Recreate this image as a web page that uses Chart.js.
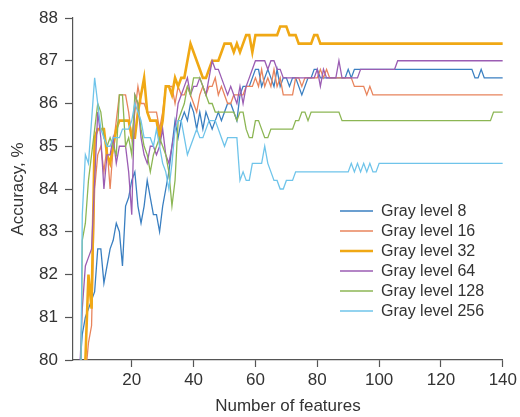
<!DOCTYPE html>
<html lang="en">
<head>
<meta charset="UTF-8" />
<title>Accuracy vs number of features</title>
<style>
  html, body { margin: 0; padding: 0; background: #fff; }
</style>
</head>
<body>
<canvas id="chart" width="520" height="417"></canvas>
<script src="https://cdn.jsdelivr.net/npm/chart.js"></script>
<script>
// one value per feature count 1..140 (null = not plotted yet)
const seriesNames = ['Gray level 8', 'Gray level 16', 'Gray level 32', 'Gray level 64', 'Gray level 128', 'Gray level 256'];
const xTicks = [20, 40, 60, 80, 100, 120, 140];
const yTicks = [80, 81, 82, 83, 84, 85, 86, 87, 88];

const gray8 = [
  null, null, 79.6, 80.6, 81.0, 81.2, 81.4, 81.6, 82.6, 82.6,
  81.8, 82.2, 82.6, 82.8, 83.2, 83.0, 82.2, 83.6, 83.8, 84.2,
  84.4, 83.6, 83.2, 83.6, 84.2, 83.8, 83.4, 83.4, 83.0, 83.6,
  84.0, 84.4, 85.0, 85.6, 85.2, 85.6, 85.8, 85.6, 86.0, 85.8,
  85.4, 85.8, 85.4, 85.8, 85.6, 85.4, 85.6, 85.8, 85.6, 85.8,
  86.0, 86.0, 85.8, 85.6, 86.2, 86.4, 86.4, 86.4, 86.6, 86.8,
  86.8, 86.4, 86.6, 86.8, 86.6, 86.4, 86.8, 86.4, 86.6, 86.6,
  86.4, 86.6, 86.6, 86.4, 86.2, 86.4, 86.6, 86.6, 86.8, 86.8,
  86.6, 86.6, 86.6, 86.6, 86.6, 86.6, 86.6, 86.6, 86.6, 86.8,
  86.6, 86.8, 86.8, 86.8, 86.8, 86.8, 86.8, 86.8, 86.8, 86.8,
  86.8, 86.8, 86.8, 86.8, 86.8, 86.8, 86.8, 86.8, 86.8, 86.8,
  86.8, 86.8, 86.8, 86.8, 86.8, 86.8, 86.8, 86.8, 86.8, 86.8,
  86.8, 86.8, 86.8, 86.8, 86.8, 86.8, 86.8, 86.8, 86.8, 86.8,
  86.6, 86.6, 86.8, 86.6, 86.6, 86.6, 86.6, 86.6, 86.6, 86.6
];
const gray16 = [
  null, null, null, null, 79.6, 80.4, 80.8, 84.0, 84.8, 85.0,
  84.4, 85.0, 84.0, 85.0, 85.6, 86.2, 86.2, 86.2, 85.8, 85.2,
  85.8, 86.4, 86.0, 86.0, 85.8, 85.8, 85.8, 85.8, 85.4, 85.8,
  86.4, 86.4, 86.4, 86.0, 86.4, 86.2, 86.2, 86.4, 86.2, 86.0,
  85.8, 86.2, 86.4, 86.2, 86.4, 86.4, 86.6, 86.2, 86.4, 86.2,
  86.0, 86.0, 86.2, 86.2, 86.2, 86.2, 86.4, 86.4, 86.4, 86.6,
  86.4, 86.8, 86.4, 86.6, 86.4, 86.8, 86.4, 86.6, 86.2, 86.2,
  86.2, 86.2, 86.6, 86.6, 86.4, 86.6, 86.6, 86.6, 86.6, 86.6,
  86.8, 86.6, 86.8, 86.6, 86.6, 86.6, 86.6, 86.6, 86.6, 86.6,
  86.6, 86.4, 86.4, 86.4, 86.4, 86.2, 86.4, 86.2, 86.2, 86.2,
  86.2, 86.2, 86.2, 86.2, 86.2, 86.2, 86.2, 86.2, 86.2, 86.2,
  86.2, 86.2, 86.2, 86.2, 86.2, 86.2, 86.2, 86.2, 86.2, 86.2,
  86.2, 86.2, 86.2, 86.2, 86.2, 86.2, 86.2, 86.2, 86.2, 86.2,
  86.2, 86.2, 86.2, 86.2, 86.2, 86.2, 86.2, 86.2, 86.2, 86.2
];
const gray32 = [
  null, null, null, 79.0, 80.0, 82.0, 81.2, 85.2, 85.4, 85.4,
  85.4, 84.8, 84.6, 85.0, 85.4, 85.6, 85.6, 85.6, 85.6, 85.2,
  85.2, 85.8, 86.2, 86.6, 85.8, 85.6, 85.6, 85.6, 85.2, 85.6,
  86.4, 86.4, 86.2, 86.6, 86.4, 86.6, 86.6, 87.0, 87.4, 87.2,
  87.0, 86.8, 86.6, 86.6, 86.8, 87.0, 87.0, 87.0, 87.2, 87.4,
  87.4, 87.4, 87.2, 87.4, 87.2, 87.4, 87.6, 87.6, 87.2, 87.6,
  87.6, 87.6, 87.6, 87.6, 87.6, 87.6, 87.6, 87.8, 87.8, 87.8,
  87.6, 87.6, 87.6, 87.4, 87.4, 87.4, 87.4, 87.4, 87.6, 87.6,
  87.4, 87.4, 87.4, 87.4, 87.4, 87.4, 87.4, 87.4, 87.4, 87.4,
  87.4, 87.4, 87.4, 87.4, 87.4, 87.4, 87.4, 87.4, 87.4, 87.4,
  87.4, 87.4, 87.4, 87.4, 87.4, 87.4, 87.4, 87.4, 87.4, 87.4,
  87.4, 87.4, 87.4, 87.4, 87.4, 87.4, 87.4, 87.4, 87.4, 87.4,
  87.4, 87.4, 87.4, 87.4, 87.4, 87.4, 87.4, 87.4, 87.4, 87.4,
  87.4, 87.4, 87.4, 87.4, 87.4, 87.4, 87.4, 87.4, 87.4, 87.4
];
const gray64 = [
  null, null, 79.4, 81.2, 82.2, 82.4, 82.6, 84.2, 85.8, 85.2,
  84.0, 84.8, 84.8, 85.2, 84.6, 85.0, 85.0, 85.0, 84.4, 83.4,
  86.2, 86.0, 85.2, 84.8, 84.6, 85.0, 85.0, 84.8, 85.0, 85.4,
  84.8, 84.6, 85.0, 85.4, 86.0, 86.2, 86.4, 86.6, 86.2, 86.4,
  86.4, 86.6, 86.4, 86.2, 86.6, 87.0, 86.8, 86.8, 86.6, 86.4,
  86.2, 86.4, 86.2, 86.0, 86.4, 86.0, 86.4, 86.6, 86.8, 87.0,
  87.0, 87.0, 87.0, 86.8, 87.0, 87.0, 86.8, 86.8, 86.6, 86.6,
  86.6, 86.6, 86.6, 86.6, 86.6, 86.6, 86.6, 86.6, 86.6, 86.8,
  86.4, 86.8, 86.6, 86.6, 86.6, 86.6, 87.0, 86.6, 86.6, 86.6,
  86.6, 86.6, 86.6, 86.8, 86.8, 86.8, 86.8, 86.8, 86.8, 86.8,
  86.8, 86.8, 86.8, 86.8, 86.8, 87.0, 87.0, 87.0, 87.0, 87.0,
  87.0, 87.0, 87.0, 87.0, 87.0, 87.0, 87.0, 87.0, 87.0, 87.0,
  87.0, 87.0, 87.0, 87.0, 87.0, 87.0, 87.0, 87.0, 87.0, 87.0,
  87.0, 87.0, 87.0, 87.0, 87.0, 87.0, 87.0, 87.0, 87.0, 87.0
];
const gray128 = [
  null, null, 75.0, 82.8, 83.2, 84.2, 84.8, 85.4, 86.0, 85.8,
  85.2, 85.0, 85.2, 85.0, 84.8, 86.2, 86.2, 85.0, 85.2, 84.8,
  86.2, 86.0, 85.4, 85.0, 84.8, 84.4, 84.8, 85.0, 85.2, 85.0,
  84.8, 84.4, 83.6, 84.2, 85.6, 85.8, 86.0, 86.4, 86.2, 86.6,
  86.6, 86.6, 86.4, 86.2, 86.0, 86.0, 85.8, 85.8, 85.8, 85.8,
  85.8, 85.8, 85.8, 85.6, 85.8, 85.8, 85.4, 85.2, 85.2, 85.6,
  85.6, 85.4, 85.2, 85.2, 85.4, 85.4, 85.4, 85.4, 85.4, 85.4,
  85.4, 85.4, 85.6, 85.6, 85.8, 85.8, 85.6, 85.8, 85.8, 85.8,
  85.8, 85.8, 85.8, 85.8, 85.8, 85.8, 85.8, 85.6, 85.6, 85.6,
  85.6, 85.6, 85.6, 85.6, 85.6, 85.6, 85.6, 85.6, 85.6, 85.6,
  85.6, 85.6, 85.6, 85.6, 85.6, 85.6, 85.6, 85.6, 85.6, 85.6,
  85.6, 85.6, 85.6, 85.6, 85.6, 85.6, 85.6, 85.6, 85.6, 85.6,
  85.6, 85.6, 85.6, 85.6, 85.6, 85.6, 85.6, 85.6, 85.6, 85.6,
  85.6, 85.6, 85.6, 85.6, 85.6, 85.6, 85.8, 85.8, 85.8, 85.8
];
const gray256 = [
  null, null, 75.0, 83.4, 84.8, 84.6, 85.6, 86.6, 86.0, 85.4,
  85.2, 85.0, 85.0, 85.2, 85.2, 85.2, 85.4, 85.4, 85.4, 85.6,
  86.0, 85.8, 85.6, 85.2, 85.2, 85.2, 85.0, 85.4, 85.0, 84.6,
  84.4, 84.0, 84.6, 85.4, 85.6, 85.6, 85.2, 84.8, 85.0, 85.2,
  85.4, 85.2, 85.2, 85.4, 85.6, 85.6, 85.6, 85.4, 85.2, 85.0,
  85.2, 85.2, 85.2, 85.2, 84.2, 84.4, 84.2, 84.2, 84.6, 84.6,
  84.6, 84.6, 85.0, 84.6, 84.4, 84.2, 84.2, 84.0, 84.0, 84.2,
  84.2, 84.2, 84.4, 84.4, 84.4, 84.4, 84.4, 84.4, 84.4, 84.4,
  84.4, 84.4, 84.4, 84.4, 84.4, 84.4, 84.4, 84.4, 84.4, 84.4,
  84.6, 84.4, 84.6, 84.4, 84.6, 84.4, 84.6, 84.4, 84.4, 84.6,
  84.6, 84.6, 84.6, 84.6, 84.6, 84.6, 84.6, 84.6, 84.6, 84.6,
  84.6, 84.6, 84.6, 84.6, 84.6, 84.6, 84.6, 84.6, 84.6, 84.6,
  84.6, 84.6, 84.6, 84.6, 84.6, 84.6, 84.6, 84.6, 84.6, 84.6,
  84.6, 84.6, 84.6, 84.6, 84.6, 84.6, 84.6, 84.6, 84.6, 84.6
];

const allSeries = [gray8, gray16, gray32, gray64, gray128, gray256];
const colors = ['#3a7fc1', '#e8845c', '#f0a814', '#9b5db3', '#8cb654', '#6fc4ea'];
const widths = [1.3, 1.3, 2.6, 1.3, 1.3, 1.3];

const textColor = '#333';
const axisColor = '#555';
const fontFamily = '"Liberation Sans", Arial, sans-serif';

// legend drawn inside the plot, lower right
const insideLegend = {
  id: 'insideLegend',
  afterDatasetsDraw(chart) {
    const ctx = chart.ctx;
    ctx.save();
    ctx.font = '16px ' + fontFamily;
    ctx.textBaseline = 'middle';
    ctx.fillStyle = textColor;
    chart.data.datasets.forEach((ds, i) => {
      const y = 211 + i * 20;
      ctx.strokeStyle = ds.borderColor;
      ctx.lineWidth = ds.borderWidth;
      ctx.beginPath();
      ctx.moveTo(340, y);
      ctx.lineTo(373, y);
      ctx.stroke();
      ctx.fillText(ds.label, 381, y + 1);
    });
    ctx.restore();
  }
};

const ctx = document.getElementById('chart').getContext('2d');
new Chart(ctx, {
  type: 'line',
  data: {
    datasets: allSeries.map((vals, i) => ({
      label: seriesNames[i],
      data: vals.map((v, k) => ({ x: k + 1, y: v })),
      borderColor: colors[i],
      borderWidth: widths[i],
      pointRadius: 0,
      tension: 0,
      fill: false,
      order: 5 - i
    }))
  },
  options: {
    responsive: false,
    animation: false,
    layout: { padding: { top: 18, right: 15, left: 0, bottom: 0 } },
    plugins: { legend: { display: false }, tooltip: { enabled: false } },
    scales: {
      x: {
        type: 'linear',
        min: 1,
        max: 140,
        afterBuildTicks: s => { s.ticks = xTicks.map(v => ({ value: v })); },
        afterFit: s => { s.height = 57; },
        grid: { drawOnChartArea: false, tickLength: 7, color: axisColor, tickWidth: 1.2 },
        border: { color: axisColor, width: 1.2 },
        ticks: { color: textColor, font: { family: fontFamily, size: 17 }, padding: 3, maxRotation: 0 },
        title: { display: true, text: 'Number of features', color: textColor,
                 font: { family: fontFamily, size: 17 }, padding: { top: 0, bottom: 0 } }
      },
      y: {
        min: 80,
        max: 88,
        afterBuildTicks: s => { s.ticks = yTicks.map(v => ({ value: v })); },
        afterFit: s => { s.width = 73; },
        grid: { drawOnChartArea: false, tickLength: 8, color: axisColor, tickWidth: 1.2 },
        border: { color: axisColor, width: 1.2 },
        ticks: { color: textColor, font: { family: fontFamily, size: 17 }, padding: 7 },
        title: { display: true, text: 'Accuracy, %', color: textColor,
                 font: { family: fontFamily, size: 17 }, padding: { top: 8, bottom: 0 } }
      }
    }
  },
  plugins: [insideLegend]
});
</script>
</body>
</html>
